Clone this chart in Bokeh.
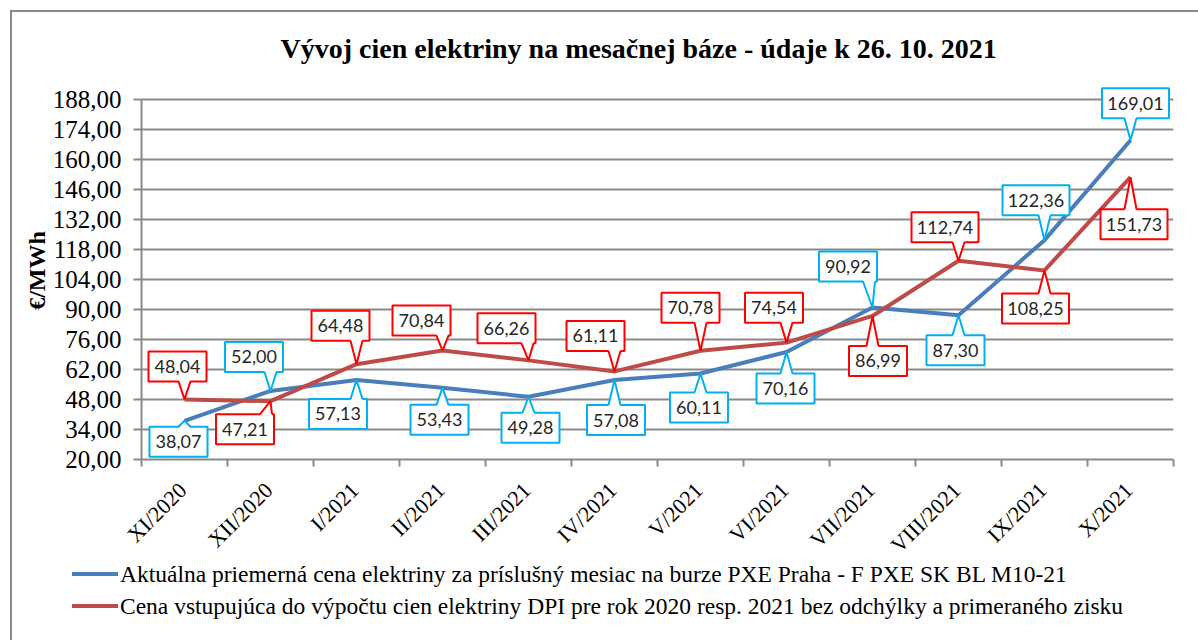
import math
from bokeh.plotting import figure
from bokeh.layouts import column
from bokeh.models import (Range1d, FixedTicker, Div)
from bokeh.embed import file_html
from bokeh.resources import INLINE
from bokeh.core.properties import value

# ---------------- data ----------------
categories = ["XI/2020", "XII/2020", "I/2021", "II/2021", "III/2021", "IV/2021",
              "V/2021", "VI/2021", "VII/2021", "VIII/2021", "IX/2021", "X/2021"]
pxe_price = [38.07, 52.00, 57.13, 53.43, 49.28, 57.08, 60.11, 70.16, 90.92, 87.30, 122.36, 169.01]
dpi_price = [48.04, 47.21, 64.48, 70.84, 66.26, 61.11, 70.78, 74.54, 86.99, 112.74, 108.25, 151.73]
y_ticks = [20, 34, 48, 62, 76, 90, 104, 118, 132, 146, 160, 174, 188]
series_names = [
    "Aktuálna priemerná cena elektriny za príslušný mesiac na burze PXE Praha - F PXE SK BL M10-21",
    "Cena vstupujúca do výpočtu cien elektriny DPI pre rok 2020 resp. 2021 bez odchýlky a primeraného zisku",
]
title_text = "Vývoj cien elektriny na mesačnej báze - údaje k 26. 10. 2021"

# ---------------- styles / label placement (pixel offsets of callout box centres) ----------------
blue_offsets = [(-6, -21), (-16.5, 34), (-18.5, -34), (-3, -32), (2, -31), (1.5, -40),
                (-1.5, -34), (-1, -36.5), (-24.5, 41), (-3, -35), (-8.5, 40), (5, 37)]
red_offsets = [(-7, 33), (-25.5, -28), (-16, 38.5), (-21, 30), (-22, 32), (-19, 35.5),
               (-10, 43), (-12.5, 35), (5.5, -45), (-13.5, 33.5), (-9, -38), (3.5, -47)]

BLUE_LINE = "#4A7EBB"
RED_LINE = "#BE4B48"
BLUE_BOX = "#00B0F0"
RED_BOX = "#FF0000"
GRID = "#898989"
SERIF = "Liberation Serif"

n = len(categories)
Y0, Y1 = y_ticks[0], y_ticks[-1]
PX_X = 86.0                 # pixels per category
PX_Y = 360.0 / (Y1 - Y0)    # pixels per €/MWh
FRAME_W = int(PX_X * n)     # 1032
FRAME_H = 378               # a bit of head-room above the top gridline for callouts
Y_TOP = Y0 + FRAME_H / PX_Y
CHART_BOTTOM = 110          # room for the slanted month labels
LEG_H = 100
LEG_OVERLAP = 29

p = figure(frame_width=FRAME_W, frame_height=FRAME_H,
           min_border_left=141, min_border_right=25, min_border_top=81,
           min_border_bottom=CHART_BOTTOM,
           x_range=Range1d(0, n), y_range=Range1d(Y0, Y_TOP),
           output_backend="svg", toolbar_location=None, tools="")
p.outline_line_color = None
p.background_fill_color = "white"
p.border_fill_alpha = 0

# title
p.title.text = title_text
p.title.text_font = SERIF
p.title.text_font_size = "28px"
p.title.text_font_style = "bold"
p.title.text_color = "black"
p.title.align = "left"
p.title.offset = 139
p.title.standoff = 36

# grid
p.xgrid.visible = False
p.ygrid.grid_line_color = GRID
p.ygrid.grid_line_width = 2
p.ygrid.ticker = FixedTicker(ticks=y_ticks)

# y axis
p.yaxis.ticker = FixedTicker(ticks=y_ticks)
p.yaxis.bounds = (Y0, Y1)
p.yaxis.major_label_overrides = {t: f"{t:.2f}".replace(".", ",") for t in y_ticks}
p.yaxis.major_label_text_font = SERIF
p.yaxis.major_label_text_font_size = "25px"
p.yaxis.major_label_text_color = "black"
p.yaxis.major_tick_out = 8
p.yaxis.major_tick_in = 0
p.yaxis.minor_tick_line_color = None
p.yaxis.major_tick_line_color = GRID
p.yaxis.major_tick_line_width = 2
p.yaxis.axis_line_color = GRID
p.yaxis.axis_line_width = 2
p.yaxis.major_label_standoff = 12
p.yaxis.axis_label = "€/MWh"
p.yaxis.axis_label_text_font = SERIF
p.yaxis.axis_label_text_font_size = "24px"
p.yaxis.axis_label_text_font_style = "bold"
p.yaxis.axis_label_text_color = "black"
p.yaxis.axis_label_standoff = 0

# x axis: labels near category centres, ticks at boundaries
centres = [i + 0.5 for i in range(n)]
label_pos = [c - 0.02 for c in centres]
p.xaxis.ticker = FixedTicker(ticks=label_pos, minor_ticks=list(range(n + 1)))
p.xaxis.major_label_overrides = {c: lab for c, lab in zip(label_pos, categories)}
p.xaxis.major_tick_out = 0
p.xaxis.major_tick_in = 0
p.xaxis.minor_tick_out = 7
p.xaxis.minor_tick_in = 0
p.xaxis.minor_tick_line_color = GRID
p.xaxis.minor_tick_line_width = 2
p.xaxis.axis_line_color = GRID
p.xaxis.axis_line_width = 2
p.xaxis.major_label_orientation = math.pi / 4
p.xaxis.major_label_text_font = SERIF
p.xaxis.major_label_text_font_size = "22px"
p.xaxis.major_label_text_color = "black"
p.xaxis.major_label_standoff = 20

# lines
r_blue = p.line(centres, pxe_price, line_color=BLUE_LINE, line_width=4)
r_red = p.line(centres, dpi_price, line_color=RED_LINE, line_width=4)


def callouts(values, offsets, color):
    L, R, T, B, TX, TY, TXT = [], [], [], [], [], [], []
    wx, wy, ex, ey = [], [], [], []
    for x, v, (dx, dy) in zip(centres, values, offsets):
        txt = f"{v:.2f}".replace(".", ",")
        w = 58 if len(txt) <= 5 else 67
        h = 30
        cx = x + dx / PX_X
        cy = v + dy / PX_Y
        left, right = cx - w / 2 / PX_X, cx + w / 2 / PX_X
        top, bot = cy + h / 2 / PX_Y, cy - h / 2 / PX_Y
        L.append(left); R.append(right); T.append(top); B.append(bot)
        TX.append(cx); TY.append(cy); TXT.append(txt)
        a = min(max(x, left + 8 / PX_X), right - 8 / PX_X)
        b0, b1 = a - 6 / PX_X, a + 6 / PX_X
        if dy > 0:
            base, inner = bot, bot + 1.5 / PX_Y
        else:
            base, inner = top, top - 1.5 / PX_Y
        wx.append([b0, b1, x]); wy.append([inner, inner, v])
        ex.append([b0, x, b1]); ey.append([base, v, base])
    p.quad(left=L, right=R, top=T, bottom=B, fill_color="white",
           line_color=color, line_width=2)
    p.patches(wx, wy, fill_color="white", line_color=None)
    p.multi_line(ex, ey, line_color=color, line_width=2)
    p.text(TX, TY, text=TXT, text_align="center", text_baseline="middle",
           text_font=value("Lato"), text_font_size="18px", text_color="#262626")


callouts(pxe_price, blue_offsets, BLUE_BOX)
callouts(dpi_price, red_offsets, RED_BOX)

# ---------------- legend strip under the chart ----------------
total_w = 141 + FRAME_W + 25


def legend_row(color, label):
    return ('<div style="height:32px;display:flex;align-items:center;white-space:nowrap;">'
            f'<span style="display:inline-block;width:46px;height:4px;background:{color};'
            'margin-left:72px;margin-right:2px;"></span>'
            f'<span>{label}</span></div>')


legend_html = ('<div style="padding-top:18px;font-family:\'Liberation Serif\',serif;'
               'font-size:23.5px;color:black;line-height:32px;">'
               + legend_row(BLUE_LINE, series_names[0])
               + legend_row(RED_LINE, series_names[1])
               + '</div>')
leg = Div(text=legend_html, width=total_w, height=LEG_H)
leg.margin = (-LEG_OVERLAP, 0, 0, 0)

layout = column(p, leg, spacing=0)
layout.styles = {
    "background": "linear-gradient(#888888,#888888) 10px 10px / 2px 100% no-repeat, "
                  "linear-gradient(#888888,#888888) 10px 10px / 100% 2px no-repeat, white"
}

open("out.html", "w").write(file_html(layout, INLINE))
